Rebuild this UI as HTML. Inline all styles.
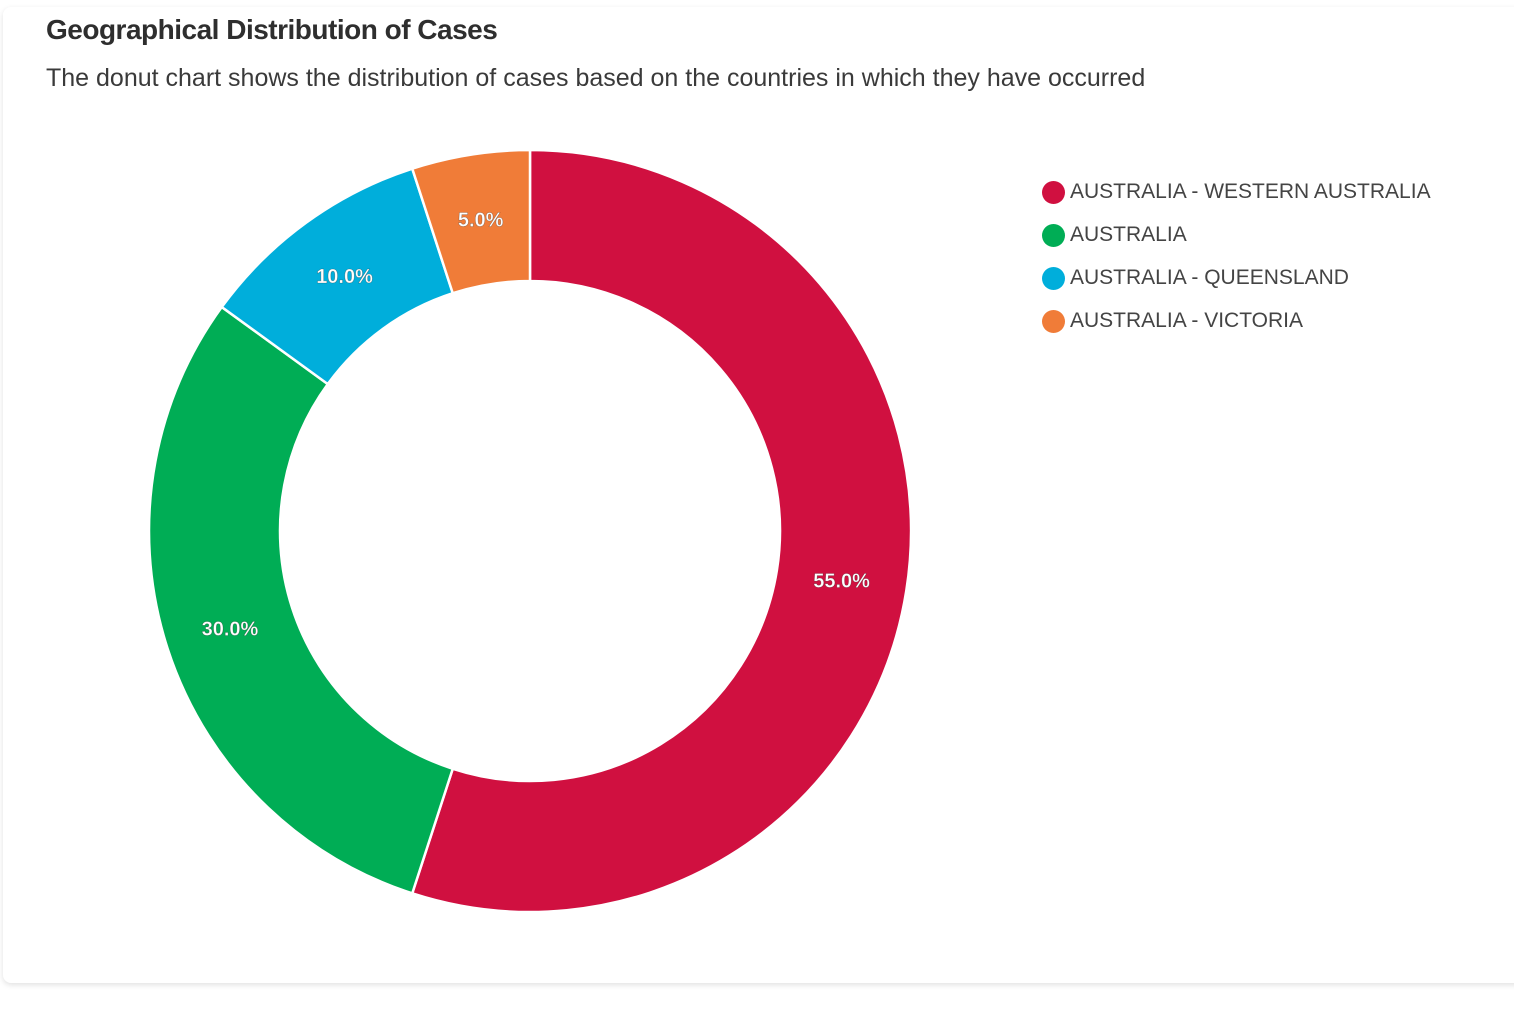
<!DOCTYPE html>
<html><head><meta charset="utf-8"><style>
body{margin:0;width:1514px;height:1018px;background:#fff;font-family:"Liberation Sans",sans-serif;overflow:hidden;position:relative}
#card{position:absolute;left:3px;top:7px;width:1530px;height:976px;background:#fff;border-radius:8px;box-shadow:0 2px 6px rgba(0,0,0,0.12)}
#title{position:absolute;left:46px;top:14px;font-size:28px;font-weight:bold;color:#2e2e2e;letter-spacing:-0.5px}
#sub{position:absolute;left:46px;top:64px;font-size:25px;color:#3a3a3a}
.leg{position:absolute;left:1042px;font-size:21px;color:#444;display:flex;align-items:center}
.dot{width:23px;height:23px;border-radius:50%;margin-right:5px}
</style></head><body>
<div id="card"></div>
<div id="title">Geographical Distribution of Cases</div>
<div id="sub">The donut chart shows the distribution of cases based on the countries in which they have occurred</div>
<svg id="chart" width="1514" height="1018" style="position:absolute;left:0;top:0"></svg>
<div id="legend"></div>
<script>
const categories=["AUSTRALIA - WESTERN AUSTRALIA","AUSTRALIA","AUSTRALIA - QUEENSLAND","AUSTRALIA - VICTORIA"];
const values=[55,30,10,5];
const colors=["#d01040","#00ad55","#00aedb","#f07c38"];
const cx=530,cy=531,R=381,r=250;
const svg=document.getElementById('chart');
const NS="http://www.w3.org/2000/svg";
const total=values.reduce((a,b)=>a+b,0);
function pt(a,rad){return [cx+rad*Math.sin(a),cy-rad*Math.cos(a)];}
let a0=0;
values.forEach((v,i)=>{
  const a1=a0+v/total*2*Math.PI;
  const large=(a1-a0)>Math.PI?1:0;
  const [x0,y0]=pt(a0,R),[x1,y1]=pt(a1,R),[x2,y2]=pt(a1,r),[x3,y3]=pt(a0,r);
  const p=document.createElementNS(NS,'path');
  p.setAttribute('d',`M${x0},${y0}A${R},${R} 0 ${large} 1 ${x1},${y1}L${x2},${y2}A${r},${r} 0 ${large} 0 ${x3},${y3}Z`);
  p.setAttribute('fill',colors[i]);p.setAttribute('stroke','#fff');p.setAttribute('stroke-width','2.5');
  
  
  svg.appendChild(p);
  const [lx,ly]=pt((a0+a1)/2,(R+r)/2);
  const t=document.createElementNS(NS,'text');
  t.setAttribute('x',lx);t.setAttribute('y',ly+7);t.setAttribute('text-anchor','middle');
  t.setAttribute('font-size','20');t.setAttribute('font-weight','bold');t.setAttribute('fill','#fff');
  t.setAttribute('stroke','rgba(0,0,0,0.35)');t.setAttribute('stroke-width','0.6');
  t.textContent=(v/total*100).toFixed(1)+'%';
  
  
  svg.appendChild(t);
  a0=a1;
});
const leg=document.getElementById('legend');
categories.forEach((c,i)=>{
  const d=document.createElement('div');d.className='leg';d.style.top=(180+i*43)+'px';
  d.innerHTML=`<span class="dot" style="background:${colors[i]}"></span>${c}`;
  
  
  leg.appendChild(d);
});
</script>
</body></html>
